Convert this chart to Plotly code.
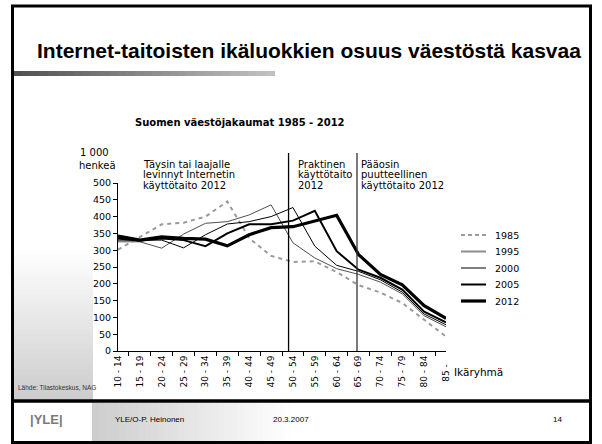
import plotly.graph_objects as go

# ---------------- data ----------------
age_groups = ["10 - 14", "15 - 19", "20 - 24", "25 - 29", "30 - 34", "35 - 39",
              "40 - 44", "45 - 49", "50 - 54", "55 - 59", "60 - 64", "65 - 69",
              "70 - 74", "75 - 79", "80 - 84", "85 -"]
years = ["1985", "1995", "2000", "2005", "2012"]
pop_1985 = [302, 340, 377, 382, 400, 445, 336, 283, 265, 267, 235, 196, 174, 143, 92, 43]
pop_1995 = [325, 325, 306, 348, 380, 385, 405, 435, 322, 277, 245, 228, 205, 170, 105, 72]
pop_2000 = [330, 330, 330, 307, 346, 378, 385, 400, 427, 312, 255, 237, 212, 175, 110, 78]
pop_2005 = [335, 328, 335, 330, 312, 350, 377, 377, 388, 417, 297, 242, 218, 183, 117, 85]
pop_2012 = [342, 330, 340, 335, 333, 313, 346, 367, 370, 386, 404, 287, 228, 197, 135, 97]
y_ticks = [0, 50, 100, 150, 200, 250, 300, 350, 400, 450, 500]

slide_title = "Internet-taitoisten ikäluokkien osuus väestöstä kasvaa"
chart_title = "Suomen väestöjakaumat 1985 - 2012"
zone_texts = [
    ["Täysin tai laajalle", "levinnyt Internetin", "käyttötaito 2012"],
    ["Praktinen", "käyttötaito", "2012"],
    ["Pääosin", "puutteellinen", "käyttötaito 2012"],
]
zone_bounds = [7.8, 10.93]   # category-index positions of the separators

# ---------------- geometry helpers (pixel -> paper) ----------------
W, H = 602, 444
L, R, T, B = 118, 446, 183, 351


def fx(px):
    return (px - L) / (R - L)


def fy(py):
    return (B - py) / (B - T)


x_labels = [g + "\u00a0" * 3 if g == "85 -" else g for g in age_groups]
series = [pop_1985, pop_1995, pop_2000, pop_2005, pop_2012]
styles = [
    dict(color="#9a9a9a", width=2, dash="4px,4px"),
    dict(color="#505050", width=1),
    dict(color="#000000", width=1),
    dict(color="#000000", width=2),
    dict(color="#000000", width=3.2),
]
legend_styles = [
    dict(color="#9a9a9a", width=2, dash="4px,3px"),
    dict(color="#8c8c8c", width=2),
    dict(color="#000000", width=1),
    dict(color="#000000", width=2),
    dict(color="#000000", width=3.2),
]

fig = go.Figure()
for yr, vals, st in zip(years, series, styles):
    fig.add_trace(go.Scatter(x=x_labels, y=vals, mode="lines", name=yr,
                             line=st, showlegend=False))

shapes = []
annotations = []

# decorative background gradients
n = 30
for i in range(n):
    # left lower panel, vertical gradient
    y0 = 250 + (399 - 250) * i / n
    y1 = 250 + (399 - 250) * (i + 1) / n + 1
    c = int(255 - (255 - 205) * (i + 0.5) / n)
    shapes.append(dict(type="rect", xref="paper", yref="paper", layer="below",
                       x0=fx(14), x1=fx(93), y0=fy(y1), y1=fy(y0),
                       fillcolor=f"rgb({c},{c},{c})", line=dict(width=0)))
    # footer gradient, horizontal
    x0 = 92 + (290 - 92) * i / n
    x1 = 92 + (290 - 92) * (i + 1) / n + 1
    c = int(205 + (255 - 205) * (i + 0.5) / n)
    shapes.append(dict(type="rect", xref="paper", yref="paper", layer="below",
                       x0=fx(x0), x1=fx(x1), y0=fy(441), y1=fy(403),
                       fillcolor=f"rgb({c},{c},{c})", line=dict(width=0)))
    # bar under the title
    x0 = 13 + (274 - 13) * i / n
    x1 = 13 + (274 - 13) * (i + 1) / n + 1
    c = int(80 + (195 - 80) * (i + 0.5) / n)
    shapes.append(dict(type="rect", xref="paper", yref="paper", layer="below",
                       x0=fx(x0), x1=fx(x1), y0=fy(76), y1=fy(71),
                       fillcolor=f"rgb({c},{c},{c})", line=dict(width=0)))

# frame and footer rule
shapes.append(dict(type="rect", xref="paper", yref="paper",
                   x0=fx(12.5), x1=fx(590.5), y0=fy(442.5), y1=fy(6),
                   line=dict(color="black", width=3)))
shapes.append(dict(type="line", xref="paper", yref="paper",
                   x0=fx(12.5), x1=fx(590.5), y0=fy(401), y1=fy(401),
                   line=dict(color="black", width=3.5)))

# zone separators
for xb, col in zip(zone_bounds, ["#000000", "#333333"]):
    shapes.append(dict(type="line", xref="x", yref="paper", x0=xb, x1=xb,
                       y0=0, y1=fy(153), line=dict(color=col, width=1.3)))

# legend drawn by hand (line samples + labels)
leg_y = [235, 251.5, 268, 284.5, 301]
for yr, st, ly in zip(years, legend_styles, leg_y):
    shapes.append(dict(type="line", xref="paper", yref="paper",
                       x0=fx(461), x1=fx(486), y0=fy(ly), y1=fy(ly), line=st))
    annotations.append(dict(text=yr, xref="paper", yref="paper", x=fx(493), y=fy(ly),
                            xanchor="left", yanchor="middle", showarrow=False,
                            font=dict(family="DejaVu Sans", size=9.5, color="black")))

# zone texts
zone_x = [141, 295.5, 359]
for tx, lines in zip(zone_x, zone_texts):
    for k, line in enumerate(lines):
        annotations.append(dict(text=line, xref="paper", yref="paper",
                                x=fx(tx), y=fy(164 + 10.6 * k),
                                xanchor="left", yanchor="middle", showarrow=False,
                                font=dict(family="DejaVu Sans", size=10, color="black")))


def text(t, x, y, size, family="DejaVu Sans", xanchor="left", color="black"):
    annotations.append(dict(text=t, xref="paper", yref="paper", x=fx(x), y=fy(y),
                            xanchor=xanchor, yanchor="middle", showarrow=False,
                            font=dict(family=family, size=size, color=color)))


text("1 000", 78, 152.5, 10)
text("henkeä", 77, 165, 10)
text("<b>" + chart_title + "</b>", 240, 122, 10, xanchor="center")
text("Ikäryhmä", 452, 372, 10.5)
text("Lähde: Tilastokeskus, NAG", 16, 387, 6.5, family="Liberation Sans", color="#333333")
text("<b>" + slide_title + "</b>", 309, 51, 21, family="Liberation Sans", xanchor="center")
text("<b>|YLE|</b>", 28, 419, 13, family="Liberation Sans", color="#7a7a7a")
text("YLE/O-P. Heinonen", 113, 419, 8, family="Liberation Sans")
text("20.3.2007", 291, 419, 8, family="Liberation Sans", xanchor="center")
text("14", 557, 419, 8, family="Liberation Sans", xanchor="center")

fig.update_layout(
    width=W, height=H, autosize=False,
    margin=dict(l=L, r=W - R, t=T, b=H - B, pad=0),
    paper_bgcolor="white", plot_bgcolor="rgba(0,0,0,0)",
    showlegend=False,
    shapes=shapes, annotations=annotations,
    xaxis=dict(type="category", showline=True, linecolor="black", linewidth=1,
               ticks="outside", ticklen=4, tickcolor="black", tickson="boundaries",
               tickangle=-90, showgrid=False, zeroline=False,
               tickfont=dict(family="DejaVu Sans", size=9, color="black")),
    yaxis=dict(range=[0, 500], tickvals=y_ticks, showline=True, linecolor="black",
               linewidth=1, ticks="outside", ticklen=4, tickcolor="black",
               showgrid=False, zeroline=False,
               tickfont=dict(family="DejaVu Sans", size=9.5, color="black")),
)

fig.write_html("out.html", config={"displayModeBar": False},
               post_script="document.body.style.margin='0';document.body.style.overflow='hidden';")
